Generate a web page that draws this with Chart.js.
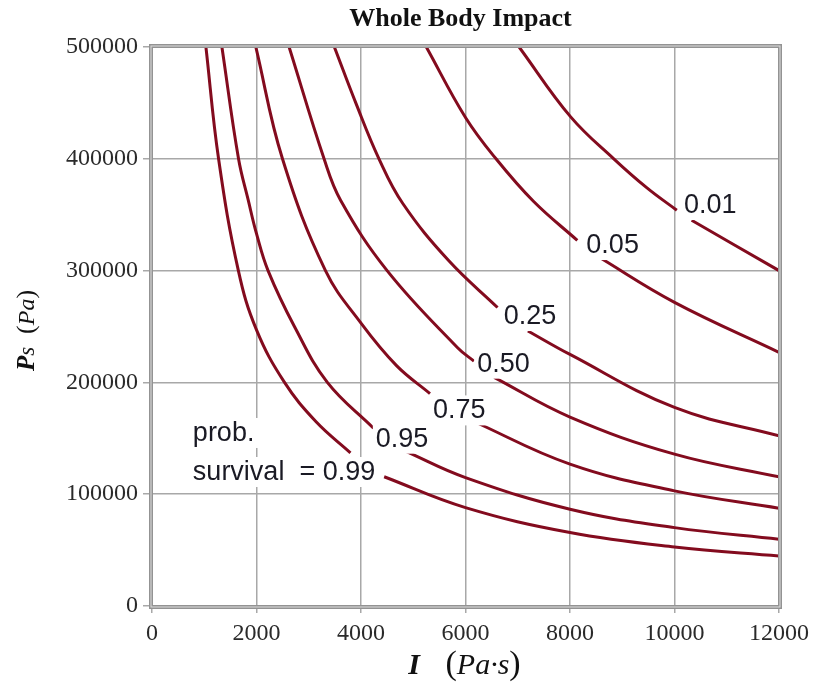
<!DOCTYPE html>
<html lang="en">
  <head>
    <meta charset="UTF-8" />
    <title>Whole Body Impact</title>
    <script src="https://cdn.jsdelivr.net/npm/chart.js"></script>
    <style>
      body {
        margin: 0;
        padding: 0;
        background: #ffffff;
      }

      .container {
        width: 815px;
        height: 684px;
      }
    </style>
  </head>
  <body>
    <div class="container">
      <canvas id="chart"></canvas>
    </div>

    <script>
      // survival probability contours, impulse I (Pa·s) vs peak pressure Ps (Pa)
      // a null pressure marks the gap where the contour label sits
      const impulse099 = [1032, 1274, 1653, 2000, 2536, 3136, 3798, 4120, 4443, 6000, 8000, 10000, 12000];
      const pressure099 = [500000, 400000, 300000, 247000, 200000, 165000, 137000, null, 115600, 88000, 65700, 52800, 44800];

      const impulse095 = [1338, 1656, 1842, 2000, 2221, 2726, 3356, 4240, 4540, 4839, 6000, 8000, 10000, 12000];
      const pressure095 = [500000, 400000, 363000, 333000, 300000, 250000, 200000, 159000, null, 138800, 114900, 86600, 70100, 59700];

      const impulse075 = [1987, 2497, 3320, 4000, 4680, 5320, 5720, 6129, 8000, 10000, 12000];
      const pressure075 = [500000, 400000, 300000, 253000, 215000, 190000, null, 165700, 126900, 103000, 87500];

      const impulse050 = [2624, 3293, 3609, 4500, 5849, 6161, 6350, 6548, 8000, 10000, 12000];
      const pressure050 = [500000, 400000, 363000, 300000, 231000, 219000, null, 204500, 169000, 135800, 115500];

      const impulse025 = [3490, 3900, 4344, 4800, 5677, 6613, 6900, 7194, 8000, 10000, 12000];
      const pressure025 = [500000, 450000, 400000, 360000, 309000, 267000, null, 246000, 225000, 177600, 152200];

      const impulse005 = [5250, 6000, 6584, 7300, 8140, 8330, 8520, 10000, 12000];
      const pressure005 = [500000, 437000, 400000, 362000, 327000, null, 313000, 271600, 226900];

      const impulse001 = [7026, 8013, 8838, 9473, 10044, 10190, 10328, 12000];
      const pressure001 = [500000, 437500, 400000, 374000, 354000, null, 345000, 300000];

      // contour labels: text, left edge (I) and baseline (Ps)
      const labelTexts = ['0.01', '0.05', '0.25', '0.50', '0.75', '0.95', 'survival  = 0.99', 'prob.'];
      const labelImpulse = [10181, 8313, 6730, 6225, 5377, 4284, 782, 782];
      const labelPressure = [351500, 315700, 252200, 209600, 167800, 142500, 112700, 147600];

      const xTicks = [0, 2000, 4000, 6000, 8000, 10000, 12000];
      const yTicks = [0, 100000, 200000, 300000, 400000, 500000];

      const curveColor = '#830b1e';
      const gridColor = '#a8a8a8';

      const curves = [
        [impulse099, pressure099],
        [impulse095, pressure095],
        [impulse075, pressure075],
        [impulse050, pressure050],
        [impulse025, pressure025],
        [impulse005, pressure005],
        [impulse001, pressure001],
      ];

      const datasets = curves.map(([xs, ys]) => ({
        data: xs.map((x, i) => ({ x, y: ys[i] })),
        borderColor: curveColor,
        borderWidth: 3,
        pointRadius: 0,
        fill: false,
        spanGaps: false,
        tension: 0.4,
      }));

      function drawRuns(ctx, runs, cx, baseline) {
        let total = 0;
        runs.forEach((r) => {
          ctx.font = r.font;
          total += ctx.measureText(r.text).width;
        });
        let x = cx - total / 2;
        runs.forEach((r) => {
          ctx.font = r.font;
          ctx.fillText(r.text, x, baseline);
          x += ctx.measureText(r.text).width;
        });
      }

      const decorations = {
        id: 'decorations',
        afterDatasetsDraw(chart) {
          const { ctx, chartArea: a, scales } = chart;
          ctx.save();

          // contour labels on white boxes
          ctx.font = '27px "Liberation Sans", Arial, sans-serif';
          ctx.textAlign = 'left';
          ctx.textBaseline = 'alphabetic';
          labelTexts.forEach((t, i) => {
            const x = scales.x.getPixelForValue(labelImpulse[i]);
            const y = scales.y.getPixelForValue(labelPressure[i]);
            const w = ctx.measureText(t).width;
            ctx.fillStyle = '#ffffff';
            ctx.fillRect(x - 3, y - 23, w + 8, 30);
            ctx.fillStyle = '#1a1a24';
            ctx.fillText(t, x, y);
          });

          // double frame
          ctx.strokeStyle = '#939393';
          ctx.lineWidth = 4;
          ctx.strokeRect(a.left - 1, a.top - 1, a.right - a.left + 2, a.bottom - a.top + 2);
          ctx.strokeStyle = '#dedede';
          ctx.lineWidth = 1;
          ctx.strokeRect(a.left - 1, a.top - 1, a.right - a.left + 2, a.bottom - a.top + 2);
          ctx.restore();
        },
        afterDraw(chart) {
          const { ctx, chartArea: a } = chart;
          const cx = (a.left + a.right) / 2;
          ctx.save();
          ctx.fillStyle = '#111';
          ctx.textBaseline = 'alphabetic';

          // title
          drawRuns(ctx, [{ text: 'Whole Body Impact', font: 'bold 26px "Liberation Serif", serif' }], cx - 5, 26);

          // x axis title
          drawRuns(
            ctx,
            [
              { text: 'I', font: 'bold italic 30px "Liberation Serif", serif' },
              { text: '   (', font: '34px "Liberation Serif", serif' },
              { text: 'Pa·s', font: 'italic 30px "Liberation Serif", serif' },
              { text: ')', font: '34px "Liberation Serif", serif' },
            ],
            cx - 1,
            674
          );

          // y axis title
          ctx.translate(34, (a.top + a.bottom) / 2 + 4);
          ctx.rotate(-Math.PI / 2);
          drawRuns(
            ctx,
            [
              { text: 'P', font: 'bold italic 25px "Liberation Serif", serif' },
              { text: 's', font: 'italic 23px "Liberation Serif", serif' },
              { text: '  (', font: '26px "Liberation Serif", serif' },
              { text: 'Pa', font: 'italic 24px "Liberation Serif", serif' },
              { text: ')', font: '26px "Liberation Serif", serif' },
            ],
            0,
            0
          );
          ctx.restore();
        },
      };

      const tickFont = { family: '"Liberation Serif", serif', size: 24 };
      const plainNumber = (v) => String(v);

      new Chart(document.getElementById('chart'), {
        type: 'line',
        data: { datasets },
        options: {
          responsive: true,
          maintainAspectRatio: false,
          animation: false,
          layout: { padding: { top: 47, right: 34, left: 0, bottom: 0 } },
          plugins: {
            legend: { display: false },
            tooltip: { enabled: false },
          },
          scales: {
            x: {
              type: 'linear',
              min: 0,
              max: 12000,
              afterBuildTicks: (s) => {
                s.ticks = xTicks.map((v) => ({ value: v }));
              },
              afterFit: (s) => {
                s.height = 78;
              },
              ticks: { font: tickFont, color: '#2a2a2a', padding: 6, maxRotation: 0, callback: plainNumber },
              grid: { color: gridColor, lineWidth: 1.5, tickLength: 7 },
              border: { display: false },
            },
            y: {
              type: 'linear',
              min: 0,
              max: 500000,
              afterBuildTicks: (s) => {
                s.ticks = yTicks.map((v) => ({ value: v }));
              },
              afterFit: (s) => {
                s.width = 152;
              },
              ticks: { font: tickFont, color: '#2a2a2a', padding: 5, callback: plainNumber },
              grid: { color: gridColor, lineWidth: 1.5, tickLength: 9 },
              border: { display: false },
            },
          },
        },
        plugins: [decorations],
      });
    </script>
  </body>
</html>
